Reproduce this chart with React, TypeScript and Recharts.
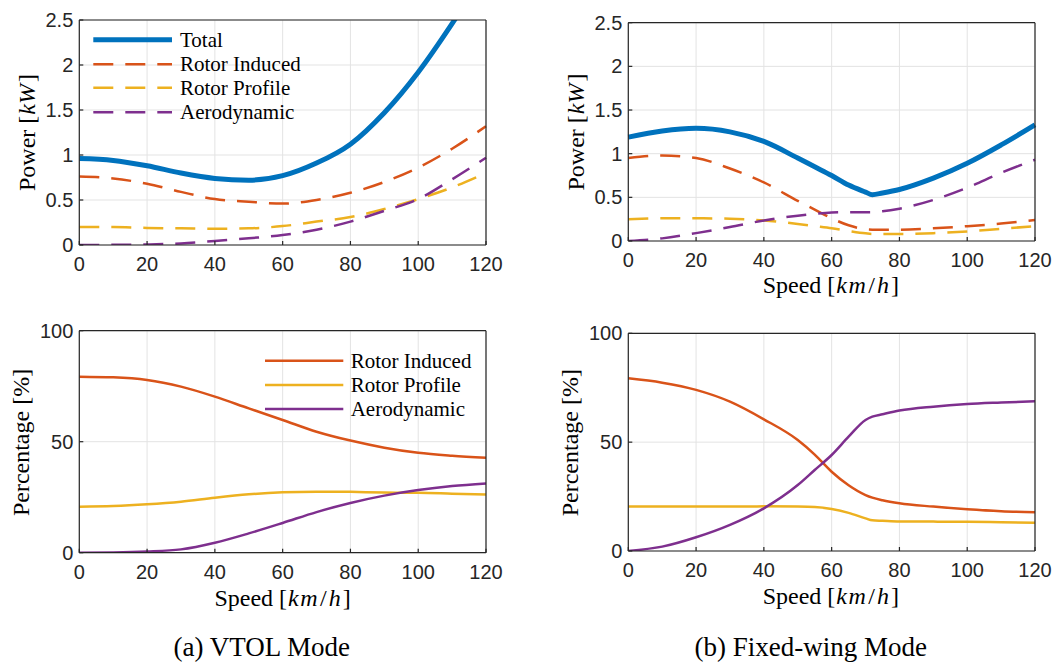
import React from 'react';
import { LineChart, Line, XAxis, YAxis, CartesianGrid, Legend } from 'recharts';

// ---- axis ticks ----
const speedTicks = [0, 20, 40, 60, 80, 100, 120];
const powerTicks = [0, 0.5, 1, 1.5, 2, 2.5];
const pctTicks = [0, 50, 100];

// ---- VTOL mode (km/h, kW) ----
const vtolSpeed = [0, 10, 20, 30, 40, 50, 60, 70, 80, 90, 100, 110, 120];
const vtolTotal = [0.96, 0.94, 0.88, 0.8, 0.74, 0.72, 0.77, 0.91, 1.12, 1.47, 1.92, 2.46, 3.05];
const vtolInduced = [0.76, 0.74, 0.68, 0.59, 0.51, 0.48, 0.46, 0.5, 0.58, 0.7, 0.86, 1.07, 1.32];
const vtolProfile = [0.2, 0.2, 0.19, 0.185, 0.18, 0.185, 0.21, 0.26, 0.31, 0.4, 0.51, 0.64, 0.8];
const vtolAero = [0, 0.002, 0.006, 0.018, 0.045, 0.075, 0.11, 0.17, 0.26, 0.38, 0.51, 0.73, 0.97];

// ---- VTOL mode shares (%) ----
const vtolInducedPct = [79.3, 79.0, 77.8, 74.8, 70.3, 65.0, 59.8, 54.5, 50.5, 47.3, 45.0, 43.7, 42.8];
const vtolProfilePct = [20.7, 21.0, 21.8, 23.0, 24.8, 26.3, 27.2, 27.5, 27.4, 27.1, 27.0, 26.6, 26.2];
const vtolAeroPct = [0, 0.1, 0.5, 1.5, 4.5, 8.7, 13.4, 18.3, 22.4, 25.7, 28.2, 30.0, 31.2];

// ---- Fixed-wing mode (km/h, kW) ----
const fwSpeed = [0, 10, 20, 30, 40, 50, 55, 60, 65, 70, 72, 75, 80, 90, 100, 110, 120];
const fwTotal = [1.19, 1.26, 1.29, 1.25, 1.14, 0.95, 0.85, 0.75, 0.64, 0.56, 0.53, 0.55, 0.59, 0.72, 0.89, 1.1, 1.33];
const fwInduced = [0.95, 0.98, 0.95, 0.83, 0.67, 0.46, 0.36, 0.26, 0.18, 0.135, 0.13, 0.13, 0.13, 0.145, 0.17, 0.2, 0.24];
const fwProfile = [0.25, 0.26, 0.26, 0.255, 0.235, 0.195, 0.17, 0.145, 0.115, 0.088, 0.08, 0.08, 0.08, 0.09, 0.11, 0.14, 0.17];
const fwAero = [0, 0.03, 0.09, 0.16, 0.235, 0.29, 0.31, 0.325, 0.33, 0.33, 0.33, 0.34, 0.37, 0.47, 0.61, 0.78, 0.93];

// ---- Fixed-wing mode shares (%) ----
const fwInducedPct = [79.3, 77.3, 74.0, 68.6, 60.5, 51.0, 44.3, 36.4, 30.2, 25.7, 24.5, 23.3, 21.9, 20.4, 19.2, 18.3, 17.8];
const fwProfilePct = [20.4, 20.4, 20.4, 20.4, 20.5, 20.4, 20.2, 19.3, 17.5, 15.0, 14.1, 13.9, 13.6, 13.5, 13.4, 13.2, 13.0];
const fwAeroPct = [0, 2.0, 6.3, 12.0, 19.6, 30.3, 37.2, 44.1, 52.5, 60.2, 61.7, 62.8, 64.5, 66.3, 67.5, 68.2, 68.8];

// ---- styling ----
const BLUE = '#0072BD';
const ORANGE = '#D95319';
const YELLOW = '#EDB120';
const PURPLE = '#7E2F8E';
const AXIS = '#262626';
const GRID = '#e3e3e3';
const SANS = '"Liberation Sans", Arial, Helvetica, sans-serif';
const SERIF = '"Liberation Serif", "Times New Roman", Times, serif';
const DASH = '20 12';

type Series = { key: string; name: string; color: string; width: number; dash?: string };

function buildRows(speed: number[], cols: Record<string, number[]>) {
  return speed.map((s, i) => {
    const row: Record<string, number> = { speed: s };
    Object.keys(cols).forEach((k) => {
      row[k] = cols[k][i];
    });
    return row;
  });
}

const vtolPowerRows = buildRows(vtolSpeed, {
  total: vtolTotal,
  induced: vtolInduced,
  profile: vtolProfile,
  aero: vtolAero,
});
const fwPowerRows = buildRows(fwSpeed, {
  total: fwTotal,
  induced: fwInduced,
  profile: fwProfile,
  aero: fwAero,
});
const vtolPctRows = buildRows(vtolSpeed, {
  induced: vtolInducedPct,
  profile: vtolProfilePct,
  aero: vtolAeroPct,
});
const fwPctRows = buildRows(fwSpeed, {
  induced: fwInducedPct,
  profile: fwProfilePct,
  aero: fwAeroPct,
});

const powerSeries: Series[] = [
  { key: 'total', name: 'Total', color: BLUE, width: 5 },
  { key: 'induced', name: 'Rotor Induced', color: ORANGE, width: 2.5, dash: DASH },
  { key: 'profile', name: 'Rotor Profile', color: YELLOW, width: 2.5, dash: DASH },
  { key: 'aero', name: 'Aerodynamic', color: PURPLE, width: 2.5, dash: DASH },
];
const pctSeries: Series[] = [
  { key: 'induced', name: 'Rotor Induced', color: ORANGE, width: 2.5 },
  { key: 'profile', name: 'Rotor Profile', color: YELLOW, width: 2.5 },
  { key: 'aero', name: 'Aerodynamic', color: PURPLE, width: 2.5 },
];

const serifStyle = { fontFamily: SERIF };

function YTitle(props: { tx: number; ty: number; kind: 'power' | 'pct' }) {
  const { tx, ty, kind } = props;
  return (
    <text
      x={tx}
      y={ty}
      transform={`rotate(-90 ${tx} ${ty})`}
      textAnchor="middle"
      style={serifStyle}
      fontSize={24}
      fill="#000"
    >
      {kind === 'power' ? (
        <>
          Power [<tspan fontStyle="italic" dx={1}>kW</tspan>
          <tspan dx={2}>]</tspan>
        </>
      ) : (
        <>Percentage [%]</>
      )}
    </text>
  );
}

function XTitle(props: { tx: number; ty: number }) {
  const { tx, ty } = props;
  return (
    <text x={tx} y={ty} textAnchor="middle" style={serifStyle} fontSize={24} fill="#000">
      Speed [<tspan fontStyle="italic" dx={1} letterSpacing={1.5}>km</tspan>
      <tspan dx={1}>/</tspan>
      <tspan fontStyle="italic" dx={2}>h</tspan>
      <tspan dx={2}>]</tspan>
    </text>
  );
}

function LegendBox(props: { items: Series[]; rowY: number[]; x0: number; x1: number; textX: number; w: number; h: number }) {
  const { items, rowY, x0, x1, textX, w, h } = props;
  return (
    <svg width={w} height={h} style={{ display: 'block', overflow: 'visible' }}>
      {items.map((s, i) => (
        <g key={s.key}>
          <line
            x1={x0}
            x2={x1}
            y1={rowY[i]}
            y2={rowY[i]}
            stroke={s.color}
            strokeWidth={s.width}
            strokeDasharray={s.dash}
          />
          <text x={textX} y={rowY[i] + 7} style={serifStyle} fontSize={21} fill="#000">
            {s.name}
          </text>
        </g>
      ))}
    </svg>
  );
}

type PanelProps = {
  left: number;
  top: number;
  width: number;
  height: number;
  plot: { l: number; t: number; r: number; b: number };
  data: Record<string, number>[];
  series: Series[];
  yDomain: [number, number];
  yTicks: number[];
  yKind: 'power' | 'pct';
  yTitlePos: [number, number];
  xTitlePos?: [number, number];
  legend?: { x: number; y: number; w: number; h: number; rowY: number[]; x0: number; x1: number; textX: number };
};

function Panel(p: PanelProps) {
  const tickStyle = { fill: AXIS, fontSize: 20, fontFamily: SANS };
  const mTop = p.plot.t - 1;
  const mRight = p.width - p.plot.r - 1;
  return (
    <div style={{ position: 'absolute', left: p.left, top: p.top, width: p.width, height: p.height }}>
      <LineChart
        width={p.width}
        height={p.height}
        data={p.data}
        margin={{ top: mTop, right: mRight, bottom: 0, left: 0 }}
      >
        <CartesianGrid stroke={GRID} strokeWidth={1} />
        <XAxis
          type="number"
          dataKey="speed"
          domain={[0, 120]}
          ticks={speedTicks}
          interval={0}
          height={p.height - p.plot.b}
          tickSize={-4}
          tickMargin={16}
          stroke={AXIS}
          strokeWidth={1.2}
          tick={tickStyle}
          label={p.xTitlePos ? <XTitle tx={p.xTitlePos[0]} ty={p.xTitlePos[1]} /> : undefined}
        />
        <XAxis
          xAxisId="top"
          orientation="top"
          type="number"
          dataKey="speed"
          domain={[0, 120]}
          ticks={speedTicks}
          interval={0}
          height={1}
          tickSize={-4}
          tick={false}
          stroke={AXIS}
          strokeWidth={1.2}
        />
        <YAxis
          type="number"
          domain={p.yDomain}
          ticks={p.yTicks}
          interval={0}
          allowDataOverflow
          width={p.plot.l}
          tickSize={-4}
          tickMargin={10}
          stroke={AXIS}
          strokeWidth={1.2}
          tick={tickStyle}
          label={<YTitle tx={p.yTitlePos[0]} ty={p.yTitlePos[1]} kind={p.yKind} />}
        />
        <YAxis
          yAxisId="right"
          orientation="right"
          type="number"
          domain={p.yDomain}
          ticks={p.yTicks}
          interval={0}
          allowDataOverflow
          width={1}
          tickSize={-4}
          tick={false}
          stroke={AXIS}
          strokeWidth={1.2}
        />
        {p.series.map((s) => (
          <Line
            key={s.key}
            dataKey={s.key}
            name={s.name}
            type="monotone"
            stroke={s.color}
            strokeWidth={s.width}
            strokeDasharray={s.dash}
            dot={false}
            activeDot={false}
            isAnimationActive={false}
          />
        ))}
        {p.legend ? (
          <Legend
            layout="vertical"
            align="center"
            verticalAlign="middle"
            wrapperStyle={{ left: p.legend.x, top: p.legend.y, width: p.legend.w, height: p.legend.h }}
            content={() => (
              <LegendBox
                items={p.series}
                rowY={p.legend!.rowY}
                x0={p.legend!.x0}
                x1={p.legend!.x1}
                textX={p.legend!.textX}
                w={p.legend!.w}
                h={p.legend!.h}
              />
            )}
          />
        ) : null}
      </LineChart>
    </div>
  );
}

export default function App() {
  return (
    <div style={{ position: 'absolute', left: 0, top: 0, width: 1054, height: 662, background: '#fff' }}>
      <Panel
        left={0}
        top={0}
        width={527}
        height={300}
        plot={{ l: 79.3, t: 20, r: 486, b: 245 }}
        data={vtolPowerRows}
        series={powerSeries}
        yDomain={[0, 2.5]}
        yTicks={powerTicks}
        yKind="power"
        yTitlePos={[35, 132.5]}
        legend={{ x: 88, y: 25, w: 240, h: 100, rowY: [14.7, 39.3, 62.7, 87.3], x0: 5.3, x1: 84, textX: 92 }}
      />
      <Panel
        left={540}
        top={0}
        width={514}
        height={300}
        plot={{ l: 88.3, t: 22.7, r: 495, b: 241 }}
        data={fwPowerRows}
        series={powerSeries}
        yDomain={[0, 2.5]}
        yTicks={powerTicks}
        yKind="power"
        yTitlePos={[44, 132]}
        xTitlePos={[290.8, 293.3]}
      />
      <Panel
        left={0}
        top={320}
        width={527}
        height={300}
        plot={{ l: 79.3, t: 10.7, r: 486, b: 232.7 }}
        data={vtolPctRows}
        series={pctSeries}
        yDomain={[0, 100]}
        yTicks={pctTicks}
        yKind="pct"
        yTitlePos={[29.3, 122.5]}
        xTitlePos={[282.6, 285.7]}
        legend={{ x: 260, y: 25, w: 240, h: 80, rowY: [15.7, 40, 64], x0: 5, x1: 83.3, textX: 90.7 }}
      />
      <Panel
        left={540}
        top={320}
        width={514}
        height={300}
        plot={{ l: 88.3, t: 13.3, r: 495, b: 231 }}
        data={fwPctRows}
        series={pctSeries}
        yDomain={[0, 100]}
        yTicks={pctTicks}
        yKind="pct"
        yTitlePos={[38.3, 122.7]}
        xTitlePos={[290.8, 284]}
      />
      <svg
        width={1054}
        height={42}
        style={{ position: 'absolute', left: 0, top: 620, display: 'block' }}
      >
        <text x={261.7} y={35.5} textAnchor="middle" style={serifStyle} fontSize={27} fill="#000">
          (a) VTOL Mode
        </text>
        <text x={810.8} y={35.5} textAnchor="middle" style={serifStyle} fontSize={27} fill="#000">
          (b) Fixed-wing Mode
        </text>
      </svg>
    </div>
  );
}
